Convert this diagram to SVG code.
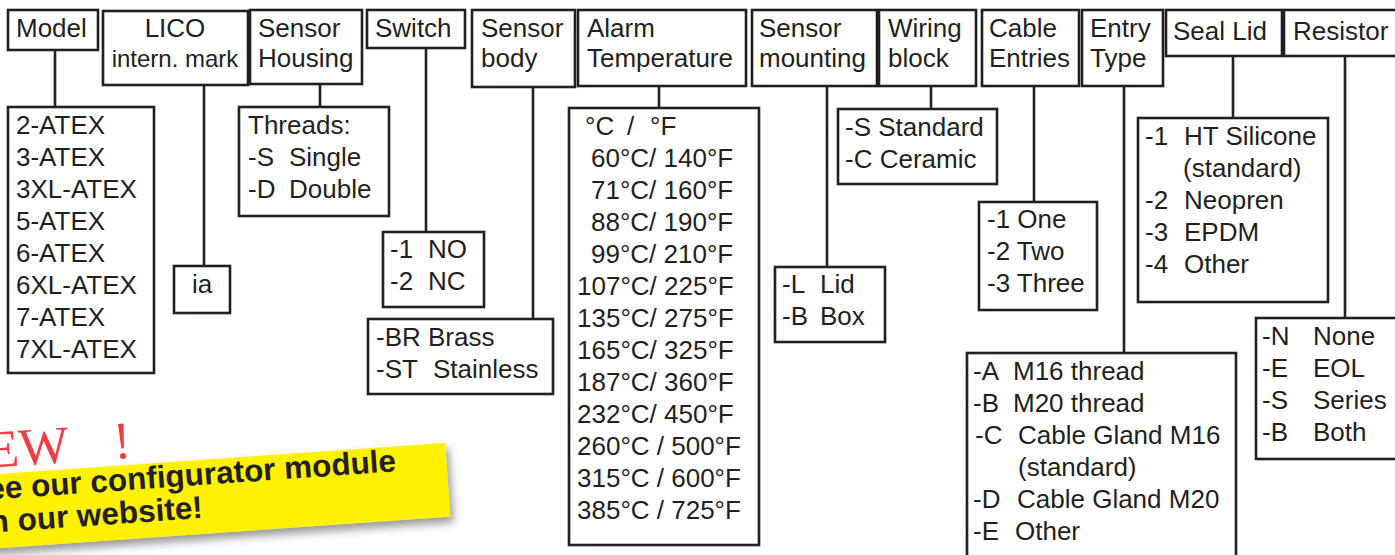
<svg xmlns="http://www.w3.org/2000/svg" width="1395" height="555" viewBox="0 0 1395 555">
<style>
.b{fill:#fff;stroke:#231f20;stroke-width:2.6}
.c line{stroke:#231f20;stroke-width:2.6}
text{font-family:"Liberation Sans",Arial,sans-serif;font-size:26px;fill:#231f20}
.s{font-size:24px}
.ban{font-weight:bold;font-size:31.5px}
.new{font-family:"Liberation Serif","Times New Roman",serif;font-size:53px;fill:#ee3e45}
</style>
<defs>
<filter id="sh" x="-10%" y="-30%" width="130%" height="180%">
<feDropShadow dx="3" dy="6" stdDeviation="4" flood-color="#555" flood-opacity="0.6"/>
</filter>
</defs>
<rect width="1395" height="555" fill="#fff"/>
<g class="c" id="connectors">
<line x1="55" y1="50" x2="55" y2="107"/>
<line x1="204" y1="85" x2="204" y2="266"/>
<line x1="320" y1="84" x2="320" y2="107"/>
<line x1="426" y1="48" x2="426" y2="232"/>
<line x1="533" y1="87" x2="533" y2="319"/>
<line x1="659" y1="86" x2="659" y2="108"/>
<line x1="827" y1="86" x2="827" y2="267"/>
<line x1="931" y1="86" x2="931" y2="109"/>
<line x1="1034" y1="86" x2="1034" y2="202"/>
<line x1="1124" y1="86" x2="1124" y2="353"/>
<line x1="1233" y1="56" x2="1233" y2="118"/>
<line x1="1345" y1="56" x2="1345" y2="318"/>
</g>
<g id="h-model"><rect class="b" x="8" y="10" width="90" height="40"/><text x="16" y="37">Model</text></g>
<g id="h-lico"><rect class="b" x="103" y="11" width="145" height="74"/><text x="175" y="37" text-anchor="middle">LICO</text><text class="s" x="175" y="67" text-anchor="middle">intern. mark</text></g>
<g id="h-housing"><rect class="b" x="250" y="10" width="112" height="74"/><text x="258" y="37">Sensor</text><text x="258" y="67">Housing</text></g>
<g id="h-switch"><rect class="b" x="367" y="10" width="98" height="38"/><text x="375" y="37">Switch</text></g>
<g id="h-body"><rect class="b" x="472" y="10" width="103" height="77"/><text x="481" y="37">Sensor</text><text x="481" y="67">body</text></g>
<g id="h-alarm"><rect class="b" x="578" y="10" width="168" height="76"/><text x="587" y="37">Alarm</text><text x="587" y="67">Temperature</text></g>
<g id="h-mount"><rect class="b" x="752" y="10" width="125" height="76"/><text x="759" y="37">Sensor</text><text x="759" y="67">mounting</text></g>
<g id="h-wiring"><rect class="b" x="879" y="10" width="97" height="76"/><text x="888" y="37">Wiring</text><text x="888" y="67">block</text></g>
<g id="h-cable"><rect class="b" x="982" y="10" width="97" height="76"/><text x="989" y="37">Cable</text><text x="989" y="67">Entries</text></g>
<g id="h-entry"><rect class="b" x="1082" y="10" width="81" height="76"/><text x="1090" y="37">Entry</text><text x="1090" y="67">Type</text></g>
<g id="h-seal"><rect class="b" x="1166" y="10" width="116" height="46"/><text x="1173" y="40">Seal Lid</text></g>
<g id="h-resistor"><rect class="b" x="1284" y="10" width="120" height="46"/><text x="1293" y="40">Resistor</text></g>

<g id="n-model"><rect class="b" x="8" y="107" width="146" height="266"/>
<text x="16" y="134">2-ATEX</text><text x="16" y="166">3-ATEX</text><text x="16" y="198">3XL-ATEX</text><text x="16" y="230">5-ATEX</text><text x="16" y="262">6-ATEX</text><text x="16" y="294">6XL-ATEX</text><text x="16" y="326">7-ATEX</text><text x="16" y="358">7XL-ATEX</text></g>
<g id="n-ia"><rect class="b" x="174" y="266" width="56" height="47"/><text x="202" y="293" text-anchor="middle">ia</text></g>
<g id="n-housing"><rect class="b" x="239" y="107" width="150" height="109"/>
<text x="248" y="134">Threads:</text><text x="248" y="166">-S</text><text x="289" y="166">Single</text><text x="248" y="198">-D</text><text x="289" y="198">Double</text></g>
<g id="n-switch"><rect class="b" x="383" y="232" width="101" height="75"/>
<text x="390" y="258">-1</text><text x="428" y="258">NO</text><text x="390" y="290">-2</text><text x="428" y="290">NC</text></g>
<g id="n-body"><rect class="b" x="368" y="319" width="185" height="75"/>
<text x="376" y="346">-BR Brass</text><text x="376" y="378">-ST</text><text x="433" y="378">Stainless</text></g>
<g id="n-alarm"><rect class="b" x="569" y="108" width="190" height="437"/>
<text x="585" y="135">°C<tspan x="627">/</tspan><tspan x="650">°F</tspan></text>
<text x="591" y="167">60°C/ 140°F</text><text x="591" y="199">71°C/ 160°F</text><text x="591" y="231">88°C/ 190°F</text><text x="591" y="263">99°C/ 210°F</text>
<text x="577" y="295">107°C/ 225°F</text><text x="577" y="327">135°C/ 275°F</text><text x="577" y="359">165°C/ 325°F</text><text x="577" y="391">187°C/ 360°F</text><text x="577" y="423">232°C/ 450°F</text>
<text x="577" y="455">260°C / 500°F</text><text x="577" y="487">315°C / 600°F</text><text x="577" y="519">385°C / 725°F</text></g>
<g id="n-mount"><rect class="b" x="775" y="267" width="110" height="75"/>
<text x="782" y="293">-L</text><text x="820" y="293">Lid</text><text x="782" y="325">-B</text><text x="820" y="325">Box</text></g>
<g id="n-wiring"><rect class="b" x="838" y="109" width="159" height="75"/>
<text x="845" y="136">-S Standard</text><text x="845" y="168">-C Ceramic</text></g>
<g id="n-cable"><rect class="b" x="979" y="202" width="118" height="108"/>
<text x="987" y="228">-1 One</text><text x="987" y="260">-2 Two</text><text x="987" y="292">-3 Three</text></g>
<g id="n-entry"><rect class="b" x="967" y="353" width="269" height="215"/>
<text x="973" y="380">-A</text><text x="1013" y="380">M16 thread</text>
<text x="973" y="412">-B</text><text x="1013" y="412">M20 thread</text>
<text x="975" y="444">-C</text><text x="1018" y="444">Cable Gland M16</text>
<text x="1018" y="476">(standard)</text>
<text x="973" y="508">-D</text><text x="1017" y="508">Cable Gland M20</text>
<text x="973" y="540">-E</text><text x="1015" y="540">Other</text></g>
<g id="n-seal"><rect class="b" x="1138" y="118" width="190" height="184"/>
<text x="1145" y="145">-1</text><text x="1184" y="145">HT Silicone</text>
<text x="1183" y="177">(standard)</text>
<text x="1145" y="209">-2</text><text x="1184" y="209">Neopren</text>
<text x="1145" y="241">-3</text><text x="1184" y="241">EPDM</text>
<text x="1145" y="273">-4</text><text x="1184" y="273">Other</text></g>
<g id="n-resistor"><rect class="b" x="1256" y="318" width="150" height="141"/>
<text x="1262" y="345">-N</text><text x="1313" y="345">None</text>
<text x="1262" y="377">-E</text><text x="1313" y="377">EOL</text>
<text x="1262" y="409">-S</text><text x="1313" y="409">Series</text>
<text x="1262" y="441">-B</text><text x="1313" y="441">Both</text></g>

<g id="banner" transform="translate(0,499) rotate(-4)">
<text class="new" x="-10" y="-32">EW<tspan x="117">!</tspan></text>
<polygon points="-20,-25 448,-25 448,49 -20,49" fill="#fff200" filter="url(#sh)"/>
<text class="ban" x="-12" y="0">ee our configurator module</text>
<text class="ban" x="-12" y="33">n our website!</text>
</g>
</svg>
